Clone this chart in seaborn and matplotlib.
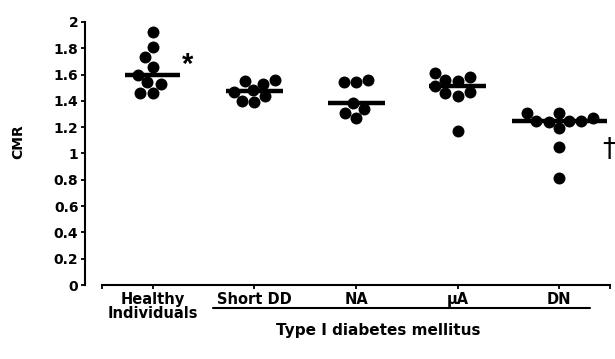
import pandas as pd
import numpy as np
import matplotlib.pyplot as plt
import seaborn as sns
from matplotlib.lines import Line2D

groups = ['Healthy\nIndividuals', 'Short DD', 'NA', '\u00b5A', 'DN']

healthy = [1.92, 1.81, 1.73, 1.66, 1.60, 1.54, 1.53, 1.46, 1.46]
short_dd = [1.56, 1.55, 1.53, 1.48, 1.47, 1.44, 1.40, 1.39]
na = [1.56, 1.54, 1.54, 1.38, 1.34, 1.31, 1.27]
micro_a = [1.61, 1.58, 1.56, 1.55, 1.51, 1.47, 1.46, 1.44, 1.17]
dn = [1.31, 1.31, 1.27, 1.25, 1.25, 1.25, 1.24, 1.19, 1.05, 0.81]

yticks = [0, 0.2, 0.4, 0.6, 0.8, 1, 1.2, 1.4, 1.6, 1.8, 2]
ytick_labels = ['0', '0.2', '0.4', '0.6', '0.8', '1', '1.2', '1.4', '1.6', '1.8', '2']

values = [healthy, short_dd, na, micro_a, dn]
df = pd.DataFrame({
    'group': [g for g, v in zip(groups, values) for _ in v],
    'CMR': [x for v in values for x in v],
})

sns.set_style('ticks', {'axes.edgecolor': 'black', 'text.color': 'black',
                        'xtick.color': 'black', 'ytick.color': 'black',
                        'axes.labelcolor': 'black'})
plt.rcParams['font.family'] = ['DejaVu Sans']
plt.rcParams['font.weight'] = 'bold'

fig = plt.figure(figsize=(6.15, 3.59), dpi=100)
ax = fig.add_axes([0.166, 0.206, 0.826, 0.733])

sns.swarmplot(data=df, x='group', y='CMR', order=groups, color='black',
              size=8.6, ax=ax, zorder=3)

# median bars
half_w = [0.27, 0.28, 0.28, 0.28, 0.47]
medians = df.groupby('group', sort=False)['CMR'].median()
for i, g in enumerate(groups):
    ax.hlines(medians[g], i - half_w[i], i + half_w[i], color='black',
              lw=3.2, zorder=4)

ax.set_xlim(-0.5, 4.5)
ax.set_ylim(0, 2)
ax.set_yticks(yticks)
ax.set_yticklabels(ytick_labels, fontsize=10.5, fontweight='bold')
ax.set_xticks([-0.5, 0, 1, 2, 3, 4, 4.5])
ax.set_xticklabels([''] + groups + [''], fontsize=10.5, fontweight='bold',
                   linespacing=0.9)
ax.set_xlabel('')
ax.set_ylabel('CMR', fontsize=10, fontweight='bold')
ax.yaxis.set_label_coords(-0.152, 0.546)

for s in ['top', 'right']:
    ax.spines[s].set_visible(False)
ax.spines['left'].set_position(('outward', 12))
ax.spines['left'].set_linewidth(1.5)
ax.spines['bottom'].set_linewidth(1.5)
ax.tick_params(axis='both', direction='out', length=3, width=1.3, pad=2,
               colors='black')

ax.text(0.346, 1.67, '*', fontsize=21, fontweight='bold', ha='center',
        va='center', family='Liberation Sans')
ax.text(4.49, 1.03, '\u2020', fontsize=19, fontweight='normal',
        ha='center', va='center', clip_on=False)

fig.add_artist(Line2D([0.346, 0.959], [0.142, 0.142], color='black', lw=1.5))
fig.text(0.615, 0.078, 'Type I diabetes mellitus', fontsize=11,
         fontweight='bold', ha='center', va='center')

fig.savefig('out.png', dpi=100)
